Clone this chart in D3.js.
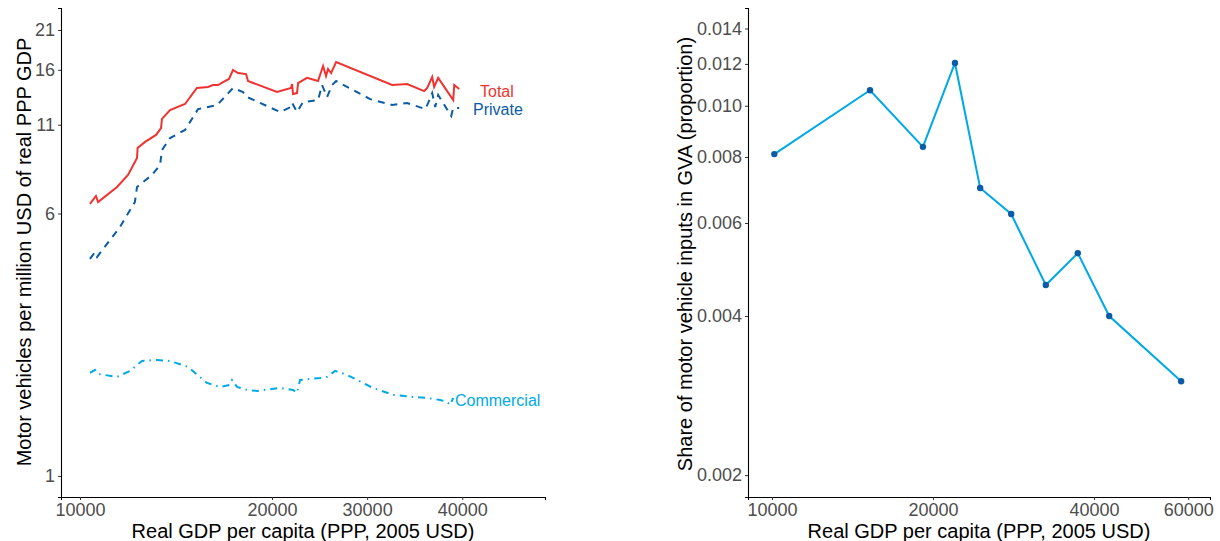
<!DOCTYPE html>
<html><head><meta charset="utf-8">
<script src="https://cdn.jsdelivr.net/npm/d3@7"></script>
<style>body{margin:0;background:#fff}</style>
</head><body>
<svg id="chart" width="1220" height="541"></svg>
<script>
// left panel: vehicles per million USD GDP
const totalGdp = [10520,10830,10940,11930,12500,12970,13000,13390,13960,14220,14270,14690,15470,16090,16670,16930,17190,17450,17760,17970,18230,18650,18750,20530,22000,22110,22210,22630,22740,23680,24840,25370,25680,25890,26210,26740,32630,34210,36000,36320,36840,37050,37470,39050,39160,39680];
const totalVal = [6.41,6.76,6.49,7.19,7.81,8.77,9.38,9.78,10.26,10.75,11.44,12.16,12.67,14.13,14.23,14.42,14.42,14.72,15.03,15.98,15.65,15.54,14.82,13.75,14.13,14.52,13.56,13.65,14.62,15.14,14.82,16.42,15.33,16.09,15.65,16.88,14.42,14.52,13.84,14.13,15.24,14.23,15.14,13.01,14.42,14.04];
const privGdp = [10520,10780,10890,12080,12860,12970,13750,14170,14270,14690,15470,16150,17140,17970,18490,18700,20840,22000,22110,22630,23260,24840,25260,25790,26320,26740,30320,32630,34210,36110,36420,36840,37160,37470,38840,39050,39680];
const privVal = [4.40,4.61,4.46,5.47,6.49,7.19,7.81,8.36,9.25,10.04,10.61,12.24,12.58,14.13,13.75,13.29,12.00,12.41,12.76,12.00,12.84,13.01,14.42,13.29,14.42,14.82,13.10,12.58,12.76,12.24,12.76,13.65,12.41,13.47,11.67,12.33,12.33];
const commGdp = [10520,10780,10940,11930,12600,13230,14010,14690,15630,16610,17290,17810,17920,18180,18700,19220,20840,22210,22630,22950,25050,25790,26630,27890,30630,32740,34840,36320,36950,37680,38420,38740,39050];
const commVal = [2.020,2.062,2.006,1.966,2.048,2.192,2.207,2.192,2.105,1.887,1.836,1.861,1.926,1.836,1.799,1.787,1.823,1.799,1.763,1.926,1.952,1.966,2.048,1.993,1.823,1.739,1.715,1.703,1.692,1.680,1.657,1.624,1.703];
const leftYTicks = [1,6,11,16,21];
const leftXTicks = [10000,20000,30000,40000];

// right panel: share of motor vehicle inputs
const shareGdp = [10100,15250,19150,21980,24500,28000,32500,37300,42700,58200];
const shareVal = [0.0081,0.0107,0.00836,0.01205,0.00699,0.00624,0.00458,0.00526,0.0040,0.00301];
const rightYTicks = [0.002,0.004,0.006,0.008,0.010,0.012,0.014];
const rightXTicks = [10000,20000,40000,60000];

const RED = "#ee3330", NAVY = "#0b5ca5", CYAN = "#00a9e6";
const svg = d3.select("#chart").style("font-family", "Liberation Sans, Arial, sans-serif");

function styleAxis(g) {
  g.selectAll(".domain").attr("stroke", "#000").attr("stroke-width", 1.1);
  g.selectAll(".tick line").attr("stroke", "#333");
  g.selectAll(".tick text").attr("fill", "#4d4d4d").style("font-size", "18px");
}

// ---- left
const x1 = d3.scaleLinear().domain([9010, 10000, 20000, 48700]).range([61, 80, 272, 545]);
const y1 = d3.scaleLog().domain([0.866, 24.4]).range([497, 8]);
svg.append("g").attr("transform", "translate(0,497)")
  .call(d3.axisBottom(x1).tickValues(leftXTicks).tickSize(3).tickFormat(d3.format("d")))
  .call(styleAxis);
svg.append("g").attr("transform", "translate(61,0)")
  .call(d3.axisLeft(y1).tickValues(leftYTicks).tickSize(3).tickFormat(d3.format("d")))
  .call(styleAxis);

const line1 = d3.line().x(d => x1(d[0])).y(d => y1(d[1]));
const series = [
  {g: totalGdp, v: totalVal, c: RED, dash: null},
  {g: privGdp, v: privVal, c: NAVY, dash: "7,6"},
  {g: commGdp, v: commVal, c: CYAN, dash: "7,5,1.5,5"}
];
series.forEach(s => {
  svg.append("path").datum(d3.zip(s.g, s.v))
    .attr("fill", "none").attr("stroke", s.c).attr("stroke-width", 2)
    .attr("stroke-dasharray", s.dash).attr("d", line1);
});
svg.append("text").attr("x", 480).attr("y", 97).attr("fill", RED).style("font-size", "16px").text("Total");
svg.append("text").attr("x", 473).attr("y", 115).attr("fill", NAVY).style("font-size", "16px").text("Private");
svg.append("text").attr("x", 455).attr("y", 406).attr("fill", CYAN).style("font-size", "16px").text("Commercial");

svg.append("text").attr("x", 303).attr("y", 538).attr("text-anchor", "middle")
  .style("font-size", "20px").text("Real GDP per capita (PPP, 2005 USD)");
svg.append("text").attr("transform", "translate(31,252) rotate(-90)").attr("text-anchor", "middle")
  .style("font-size", "20px").text("Motor vehicles per million USD of real PPP GDP");

// ---- right
const x2 = d3.scaleLog().domain([9018, 65900]).range([748, 1210]);
const y2 = d3.scaleLog().domain([0.001818, 0.01531]).range([497, 8]);
svg.append("g").attr("transform", "translate(0,497)")
  .call(d3.axisBottom(x2).tickValues(rightXTicks).tickSize(3).tickFormat(d3.format("d")))
  .call(styleAxis);
svg.append("g").attr("transform", "translate(748,0)")
  .call(d3.axisLeft(y2).tickValues(rightYTicks).tickSize(3).tickFormat(d3.format(".3f")))
  .call(styleAxis);

const pts = d3.zip(shareGdp, shareVal);
svg.append("path").datum(pts).attr("fill", "none").attr("stroke", CYAN).attr("stroke-width", 2)
  .attr("d", d3.line().x(d => x2(d[0])).y(d => y2(d[1])));
svg.append("g").selectAll("circle").data(pts).join("circle")
  .attr("cx", d => x2(d[0])).attr("cy", d => y2(d[1])).attr("r", 3.2).attr("fill", NAVY);

svg.append("text").attr("x", 979).attr("y", 538).attr("text-anchor", "middle")
  .style("font-size", "20px").text("Real GDP per capita (PPP, 2005 USD)");
svg.append("text").attr("transform", "translate(692,254) rotate(-90)").attr("text-anchor", "middle")
  .style("font-size", "20px").text("Share of motor vehicle inputs in GVA (proportion)");
</script>
</body></html>
